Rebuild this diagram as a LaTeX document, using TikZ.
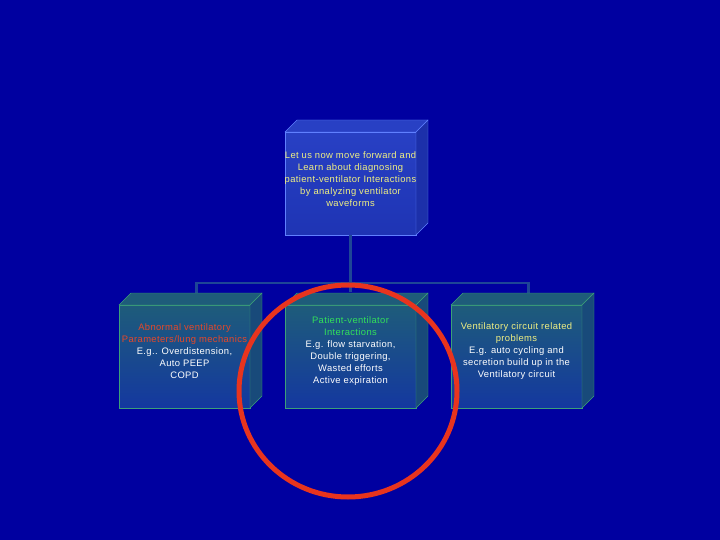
\documentclass[tikz,border=0pt]{standalone}
\usepackage{fontspec}
\setmainfont{Liberation Sans}[LetterSpace=4]
\usetikzlibrary{positioning}

\definecolor{slide}{RGB}{0,0,160}
\definecolor{tealtop}{RGB}{30,92,122}
\definecolor{tealbot}{RGB}{20,56,160}
\definecolor{tealedge}{RGB}{60,160,120}
\definecolor{tealside}{RGB}{24,74,122}
\definecolor{bluetop}{RGB}{40,64,196}
\definecolor{bluebot}{RGB}{30,52,180}
\definecolor{blueedge}{RGB}{96,128,255}
\definecolor{blueside}{RGB}{28,48,170}
\definecolor{linkblue}{RGB}{30,70,150}
\definecolor{ringred}{RGB}{232,52,30}
\definecolor{paleyellow}{RGB}{240,240,130}
\definecolor{orangered}{RGB}{230,72,40}
\definecolor{brightgreen}{RGB}{50,225,90}

\tikzset{
  face/.style={rectangle, outer sep=0pt, minimum width=131pt, minimum height=103pt,
    draw=tealedge, top color=tealtop, bottom color=tealbot},
  headface/.style={face, draw=blueedge, top color=bluetop, bottom color=bluebot},
  words/.style={align=center, font=\fontsize{9.4}{12}\selectfont, text=white},
  link/.style={draw=linkblue, line width=2.5pt},
  ring/.style={draw=ringred, line width=5pt}
}

% top and side faces of a box
\newcommand{\boxsides}[4]{%
  \filldraw[fill=#2, draw=#4] (#1.north west) -- ++(12,-12)
    -- ([shift={(12,-12)}]#1.north east) -- (#1.north east) -- cycle;
  \filldraw[fill=#3, draw=#4] (#1.north east) -- ++(12,-12)
    -- ([shift={(12,-12)}]#1.south east) -- (#1.south east) -- cycle;
}

\begin{document}
\begin{tikzpicture}[x=1pt, y=-1pt]
  \fill[slide] (0,0) rectangle (720,540);
  \useasboundingbox (0,0) rectangle (720,540);

  \node[face] (mid) at (350.5,356.5) {};
  \node[face, left=35pt of mid] (left) {};
  \node[face, right=35pt of mid] (right) {};
  \node[headface, above=70pt of mid] (head) {};

  \draw[link] (head.south) -- ++(0,57);
  \draw[link] ([shift={(12,-12)}]left.north) |- ([shift={(12,-22)}]right.north)
    -- ([shift={(12,-12)}]right.north);

  \boxsides{head}{bluetop}{blueside}{blueedge}
  \boxsides{left}{tealtop}{tealside}{tealedge}
  \boxsides{mid}{tealtop}{tealside}{tealedge}
  \boxsides{right}{tealtop}{tealside}{tealedge}

  \node[words, text=paleyellow] (headText) at ([yshift=4.5pt]head.center)
    {Let us now move forward and\\ Learn about diagnosing\\ patient-ventilator Interactions\\
     by analyzing ventilator\\ waveforms};
  \node[words] (leftText) at ([yshift=5.5pt]left.center)
    {\textcolor{orangered}{Abnormal ventilatory}\\ \textcolor{orangered}{Parameters/lung mechanics}\\
     E.g.. Overdistension,\\ Auto PEEP\\ COPD};
  \node[words] (midText) at ([yshift=5.5pt]mid.center)
    {\textcolor{brightgreen}{Patient-ventilator}\\ \textcolor{brightgreen}{Interactions}\\
     E.g. flow starvation,\\ Double triggering,\\ Wasted efforts\\ Active expiration};
  \node[words] (rightText) at ([yshift=5.5pt]right.center)
    {\textcolor{paleyellow}{Ventilatory circuit related}\\ \textcolor{paleyellow}{problems}\\
     E.g. auto cycling and\\ secretion build up in the\\ Ventilatory circuit};

  \draw[ring] ([shift={(-2.5,34.5)}]mid.center) ellipse [x radius=109, y radius=106];
\end{tikzpicture}
\end{document}
